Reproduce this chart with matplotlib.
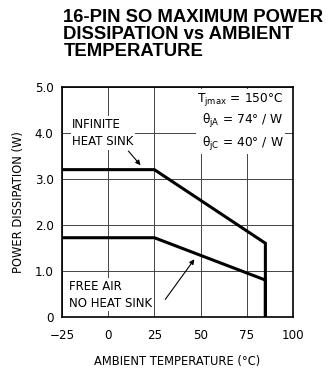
import matplotlib
matplotlib.use('Agg')
import matplotlib.pyplot as plt

plt.rcParams['font.family'] = ['DejaVu Sans']
plt.rcParams['mathtext.fontset'] = 'dejavusans'
plt.rcParams['mathtext.default'] = 'regular'

# derating curves (ambient temp in C, power in W)
temp_inf = [-25, 25, 85, 85]
power_inf = [3.2, 3.2, 1.6, 0]
temp_air = [-25, 25, 85, 85]
power_air = [1.72, 1.72, 0.8, 0]

xticks = [-25, 0, 25, 50, 75, 100]
yticks = [0, 1, 2, 3, 4, 5]
ytick_labels = ['0', '1.0', '2.0', '3.0', '4.0', '5.0']

fig = plt.figure(figsize=(3.29, 3.68), dpi=100)
ax = fig.add_axes([0.188, 0.139, 0.703, 0.625])

fig.text(0.193, 0.975, '16-PIN SO MAXIMUM POWER\nDISSIPATION vs AMBIENT\nTEMPERATURE',
         fontsize=13.3, fontweight='bold', ha='left', va='top', linespacing=1.0,
         family='Liberation Sans')

ax.plot(temp_inf, power_inf, color='black', lw=2.2, solid_joinstyle='miter')
ax.plot(temp_air, power_air, color='black', lw=2.2, solid_joinstyle='miter')

ax.set_xlim(-25, 100)
ax.set_ylim(0, 5)
ax.set_xticks(xticks)
ax.set_yticks(yticks)
ax.set_yticklabels(ytick_labels)
ax.tick_params(length=0, labelsize=8.6)
ax.tick_params(axis='x', pad=9)
ax.tick_params(axis='y', pad=6)
ax.grid(True, color='#444444', lw=0.7)
for s in ax.spines.values():
    s.set_linewidth(1.2)

ax.set_xlabel('AMBIENT TEMPERATURE (°C)', fontsize=8.3, labelpad=9)
ax.set_ylabel('POWER DISSIPATION (W)', fontsize=8.3, labelpad=7)

ax.text(-19.5, 4.0, 'INFINITE\nHEAT SINK', fontsize=8.5, ha='left', va='center',
        linespacing=1.45, bbox=dict(facecolor='white', edgecolor='none', pad=1))
ax.annotate('', xy=(18.5, 3.25), xytext=(10, 3.65),
            arrowprops=dict(arrowstyle='-|>', color='black', lw=0.8, mutation_scale=7))

ax.text(-21, 0.48, 'FREE AIR\nNO HEAT SINK', fontsize=8.5, ha='left', va='center',
        linespacing=1.45, bbox=dict(facecolor='white', edgecolor='none', pad=1))
ax.annotate('', xy=(47.5, 1.3), xytext=(30, 0.33),
            arrowprops=dict(arrowstyle='-|>', color='black', lw=0.8, mutation_scale=7))

ax.text(95, 4.24, '$T_{jmax}$ = 150°C\n$\\theta_{jA}$ = 74° / W\n$\\theta_{jC}$ = 40° / W',
        fontsize=8.8, ha='right', va='center', linespacing=1.4,
        bbox=dict(facecolor='white', edgecolor='none', pad=1))

fig.savefig('out.png', dpi=100)
